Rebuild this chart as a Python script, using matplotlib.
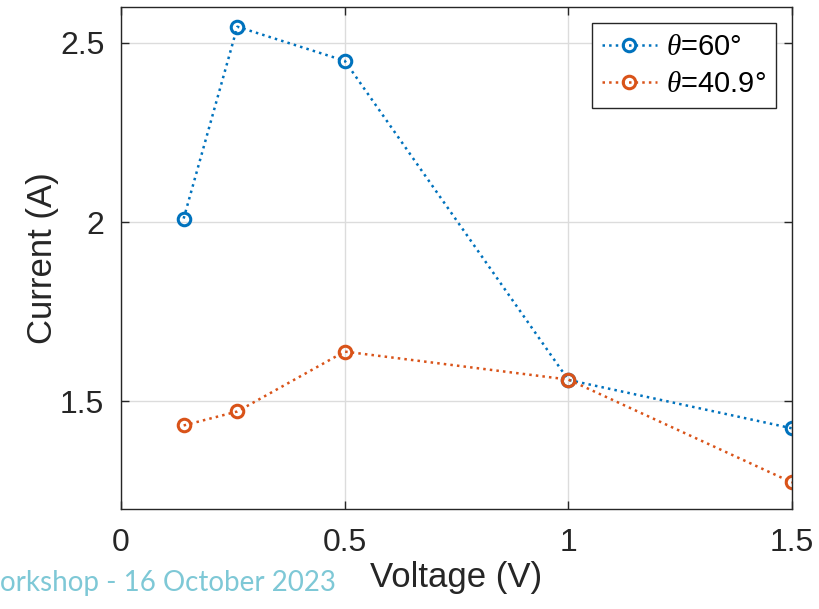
import matplotlib
matplotlib.use('Agg')
import matplotlib.pyplot as plt

plt.rcParams['font.family'] = ['Liberation Sans', 'DejaVu Sans']
plt.rcParams['mathtext.fontset'] = 'custom'
plt.rcParams['mathtext.it'] = 'Liberation Serif:italic'
plt.rcParams['mathtext.rm'] = 'Liberation Sans'

voltage = [0.14, 0.26, 0.5, 1.0, 1.5]
current_60 = [2.01, 2.545, 2.45, 1.56, 1.425]
current_409 = [1.433, 1.472, 1.639, 1.561, 1.274]
labels = [r'$\theta$=60°', r'$\theta$=40.9°']
xticks = [0, 0.5, 1, 1.5]
yticks = [1.5, 2, 2.5]

BLUE = '#0072BD'
ORANGE = '#D95319'

fig = plt.figure(figsize=(8.2, 6.09), dpi=100)
ax = fig.add_axes([0.1476, 0.1642, 0.8183, 0.8243])

for y, c, lab in [(current_60, BLUE, labels[0]), (current_409, ORANGE, labels[1])]:
    ax.plot(voltage, y, linestyle=':', color=c, linewidth=1.8, marker='o',
            markersize=9, markerfacecolor='none', markeredgewidth=2.2, label=lab)

ax.set_xlim(0, 1.5)
ax.set_ylim(1.2, 2.6)
ax.set_xticks(xticks)
ax.set_xticklabels(['0', '0.5', '1', '1.5'])
ax.set_yticks(yticks)
ax.set_yticklabels(['1.5', '2', '2.5'])
ax.grid(True, color='#dcdcdc', linewidth=1)
ax.set_axisbelow(True)
ax.tick_params(direction='in', top=True, right=True, length=6, width=1,
               labelsize=23, colors='#262626')
ax.tick_params(axis='x', pad=14)
ax.tick_params(axis='y', pad=12)
for s in ax.spines.values():
    s.set_color('#262626')
    s.set_linewidth(1)

ax.set_xlabel('Voltage (V)', fontsize=25, color='#262626', labelpad=2)
ax.set_ylabel('Current (A)', fontsize=25, color='#262626', labelpad=1)

leg = ax.legend(loc='upper right', fontsize=21, handlelength=1.9, handletextpad=0.3,
                borderpad=0.35, labelspacing=0.3, fancybox=False, framealpha=1,
                edgecolor='#262626', borderaxespad=0.55)
leg.get_frame().set_linewidth(1)

# footer of the slide, left part cut off in the source
fig.text(0.0, 0.042, 'orkshop - 16 October 2023', ha='left', va='center',
         fontsize=20, color='#7EC8D6', family=['Lato', 'DejaVu Sans'])

fig.savefig('out.png', dpi=100)
